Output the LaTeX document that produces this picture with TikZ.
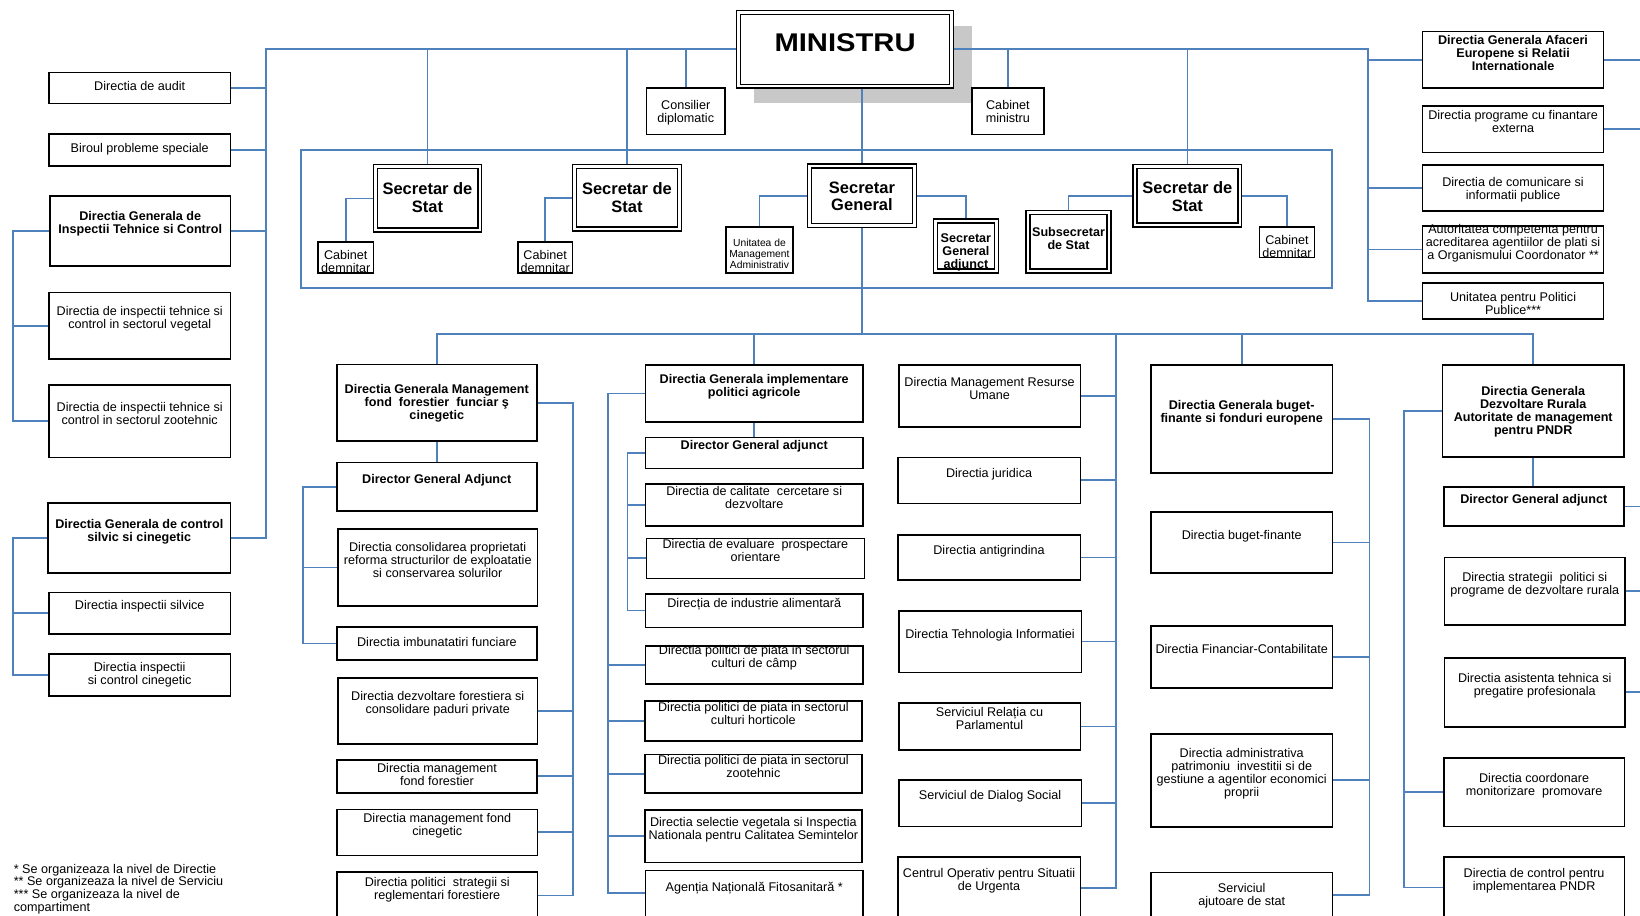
\documentclass[tikz,border=0pt]{standalone}
\usepackage{fontspec}
\setmainfont{Liberation Sans}
\usepackage{tikz}
\usetikzlibrary{positioning,fit,backgrounds}

\definecolor{orgblue}{RGB}{79,129,189}
\definecolor{shadowgray}{RGB}{200,200,200}

% box from corner to corner, text hung below its top edge
\newcommand{\orgunit}[8][]{%
  \node[unit, fit={(#3,#4) (#5,#6)}] (#2) {};
  \node[txt, #1, below=#7pt of #2.north] (#2-t) {#8};
}

\begin{document}
\begin{tikzpicture}[
    x = 1pt, y = -1pt, % pixel grid, y going down
    unit/.style = {draw = black, line width = 1.6pt, fill = white, inner sep = 0pt},
    chief/.style = {draw = black, line width = 1.3pt, double = white, double distance = 2.6pt, fill = white, inner sep = 0pt},
    txt/.style = {align = center, inner sep = 0pt, font = \fontsize{12.6}{13}\selectfont},
    boldtxt/.style = {font = \fontsize{12.6}{13}\selectfont\bfseries},
    smalltxt/.style = {font = \fontsize{10.3}{11.4}\selectfont},
    bigtxt/.style = {font = \fontsize{16.5}{17.4}\selectfont\bfseries},
    conn/.style = {draw = orgblue, line width = 1.7pt} % connector line
    ]
    \useasboundingbox (0,0) rectangle (1640,915);

    % minister and cabinet
    \node[chief, fit={(738.5,12.5) (951.6,86.2)}] (ministru) {};
    \node[txt, font=\fontsize{25.6}{30}\selectfont\bfseries, below=21.7pt of ministru.north] (ministru-t) {\scalebox{1.14}[1]{MINISTRU}};
    \orgunit{consil}{646.4}{88.3}{725}{134.7}{13}{Consilier\\diplomatic}
    \orgunit{cabmin}{971.8}{88.3}{1043.9}{134.7}{13}{Cabinet\\ministru}

    % secretaries
    \node[chief, fit={(375.2,166.7) (479.8,230)}] (sds1) {};
    \node[txt, bigtxt, below=16.5pt of sds1.north] (sds1-t) {Secretar de\\Stat};
    \node[chief, fit={(574.5,166.7) (679.4,229)}] (sds2) {};
    \node[txt, bigtxt, below=16.5pt of sds2.north] (sds2-t) {Secretar de\\Stat};
    \node[chief, fit={(809.5,166) (914.4,225.3)}] (sg) {};
    \node[txt, bigtxt, below=16pt of sg.north] (sg-t) {Secretar\\General};
    \node[chief, fit={(1134.9,166.7) (1239.8,225)}] (sds3) {};
    \node[txt, bigtxt, below=15.5pt of sds3.north] (sds3-t) {Secretar de\\Stat};
    \node[chief, fit={(935.2,221) (996.6,271)}] (sga) {};
    \node[txt, boldtxt, below=12.7pt of sga.north] (sga-t) {Secretar\\General\\adjunct};
    \node[chief, fit={(1028,212.7) (1109,271)}] (subs) {};
    \node[txt, boldtxt, below=15pt of subs.north] (subs-t) {Subsecretar\\de Stat};
    \orgunit{cab1}{317.9}{241.7}{373.6}{273}{9.6}{Cabinet\\demnitar}
    \orgunit{cab2}{517.9}{241.7}{572.5}{273}{9.6}{Cabinet\\demnitar}
    \orgunit[smalltxt]{unitma}{725.7}{226.7}{793.2}{273}{12.5}{Unitatea de\\Management\\Administrativ}
    \orgunit{cab3}{1259.6}{226.7}{1314.3}{257.3}{9.3}{Cabinet\\demnitar}

    % left side
    \orgunit{audit}{49}{72.7}{230.4}{103.7}{9.6}{Directia de audit}
    \orgunit{biroul}{49}{134.3}{230.4}{165.7}{9.7}{Biroul probleme speciale}
    \orgunit[boldtxt]{dginsp}{50}{195.7}{230.4}{265.7}{16.6}{Directia Generala de\\Inspectii Tehnice si Control}
    \orgunit{veg}{49}{292.3}{230.4}{359}{15}{Directia de inspectii tehnice si\\control in sectorul vegetal}
    \orgunit{zoot}{49}{384.7}{230.4}{457.3}{18.6}{Directia de inspectii tehnice si\\control in sectorul zootehnic}
    \orgunit[boldtxt]{dgsilv}{48.2}{503}{230.4}{572.7}{17.3}{Directia Generala de control\\silvic si cinegetic}
    \orgunit{silv}{49}{592.3}{230.4}{634}{9}{Directia inspectii silvice}
    \orgunit{cineg}{49}{653.7}{230.4}{695.7}{9.6}{Directia inspectii\\si control cinegetic}

    % right side
    \orgunit[boldtxt]{dgaer}{1422.5}{31.7}{1603.6}{88.3}{4.3}{Directia Generala Afaceri\\Europene si Relatii\\Internationale}
    \orgunit{progext}{1422.5}{106}{1603.6}{152.3}{5.3}{Directia programe cu finantare\\externa}
    \orgunit{comunic}{1422.5}{164.7}{1603.6}{211}{13.6}{Directia de comunicare si\\informatii publice}
    \orgunit{autcomp}{1422.5}{226}{1603.6}{272.7}{-0.7}{Autoritatea competenta pentru\\acreditarea agentiilor de plati si\\a Organismului Coordonator **}
    \orgunit{upp}{1422.5}{282.7}{1603.6}{319}{10}{Unitatea pentru Politici\\Publice***}

    % forests column
    \orgunit[boldtxt]{dgmff}{336.8}{364.3}{536.8}{441}{20.7}{Directia Generala Management\\fond\ \ forestier\ \ funciar ş\\cinegetic}
    \orgunit[boldtxt]{adjA}{336.8}{462.3}{536.8}{511}{13}{Director General Adjunct}
    \orgunit{consol}{337.9}{528.7}{537.5}{606}{14.6}{Directia consolidarea proprietati\\reforma structurilor de exploatatie\\si conservarea solurilor}
    \orgunit{imbun}{337.1}{626.7}{536.8}{660}{11.6}{Directia imbunatatiri funciare}
    \orgunit{dezvf}{337.9}{677.7}{537.5}{744}{14.6}{Directia dezvoltare forestiera si\\consolidare paduri private}
    \orgunit{mff}{337}{759.7}{537}{792.7}{4.6}{Directia management\\fond forestier}
    \orgunit{mfc}{337}{809.3}{537.5}{855.3}{5}{Directia management fond\\cinegetic}
    \orgunit{polstr}{337}{871.7}{537.5}{919}{6}{Directia politici\ \ strategii si\\reglementari forestiere}

    % agricultural policy column
    \orgunit[boldtxt]{dgipa}{645.4}{365}{863}{421.7}{10}{Directia Generala implementare\\politici agricole}
    \orgunit[boldtxt]{adjB}{645.4}{437.3}{863}{468.3}{4}{Director General adjunct}
    \orgunit{calit}{645.4}{483.7}{863}{525.7}{3.6}{Directia de calitate\ \ cercetare si\\dezvoltare}
    \orgunit{evalu}{646.4}{538.3}{864.4}{578.3}{2}{Directia de evaluare\ \ prospectare\\orientare}
    \orgunit{indal}{645.4}{593.7}{863}{627.3}{5.6}{Direcția de industrie alimentară}
    \orgunit{pcamp}{645.4}{646}{863}{683.7}{0.3}{Directia politici de piata in sectorul\\culturi de câmp}
    \orgunit{phort}{644.7}{700.7}{862}{740.7}{2.6}{Directia politici de piata in sectorul\\culturi horticole}
    \orgunit{pzoo}{644.7}{754.3}{862}{793}{2}{Directia politici de piata in sectorul\\zootehnic}
    \orgunit{selveg}{644.7}{809.7}{862}{862.3}{8.3}{Directia selectie vegetala si Inspectia\\Nationala pentru Calitatea Semintelor}
    \orgunit{anf}{645.4}{870.3}{863}{916.3}{12.7}{Agenția Națională Fitosanitară *}

    % services column
    \orgunit{mru}{898.8}{365}{1080.3}{426.7}{13}{Directia Management Resurse\\Umane}
    \orgunit{jurid}{897.8}{457.3}{1080.3}{503.3}{11.7}{Directia juridica}
    \orgunit{antigr}{897.8}{535}{1080.3}{580}{11}{Directia antigrindina}
    \orgunit{tehinf}{898.8}{610.7}{1081.3}{672.3}{19.6}{Directia Tehnologia Informatiei}
    \orgunit{relparl}{898.8}{703}{1080.3}{749.7}{5.3}{Serviciul Relația cu\\Parlamentul}
    \orgunit{dialog}{898.8}{780}{1081.3}{826.3}{11}{Serviciul de Dialog Social}
    \orgunit{cosu}{897.8}{857}{1080.3}{918.4}{12.3}{Centrul Operativ pentru Situatii\\de Urgenta}

    % budget column
    \orgunit[boldtxt]{dgbf}{1151}{365}{1332.4}{472.7}{36}{Directia Generala buget-\\finante si fonduri europene}
    \orgunit{bugfin}{1151}{512}{1332.4}{572.7}{19}{Directia buget-finante}
    \orgunit{fincont}{1151}{626}{1332.4}{687.7}{19.3}{Directia Financiar-Contabilitate}
    \orgunit{admpat}{1151}{733.7}{1332.4}{826.7}{15.6}{Directia administrativa\\patrimoniu\ \ investitii si de\\gestiune a agentilor economici\\proprii}
    \orgunit{ajstat}{1151}{872.3}{1332.4}{917.7}{11.4}{Serviciul\\ajutoare de stat}

    % rural development column
    \orgunit[boldtxt]{dgdr}{1442.6}{365}{1623.8}{457}{22}{Directia Generala\\Dezvoltare Rurala\\Autoritate de management\\pentru PNDR}
    \orgunit[boldtxt]{adjE}{1443.7}{487}{1623.8}{525.7}{8.3}{Director General adjunct}
    \orgunit{strat}{1444.4}{557.3}{1625.1}{625}{16}{Directia strategii\ \ politici si\\programe de dezvoltare rurala}
    \orgunit{asist}{1444.4}{657.7}{1625.1}{726.7}{16.6}{Directia asistenta tehnica si\\pregatire profesionala}
    \orgunit{coord}{1443.7}{757.7}{1624.5}{826.3}{16.6}{Directia coordonare\\monitorizare\ \ promovare}
    \orgunit{ctrl}{1443.7}{856.7}{1624.5}{918}{12.6}{Directia de control pentru\\implementarea PNDR}

    \node[txt, align=left, anchor=north west, font=\fontsize{12.6}{12.6}\selectfont] (notes) at (13.6,864) {* Se organizeaza la nivel de Directie\\** Se organizeaza la nivel de Serviciu\\*** Se organizeaza la nivel de\\compartiment};

    % bus lines
    \coordinate (lbus) at (266,0);
    \coordinate (ib) at (13.2,0);
    \coordinate (rbus) at (1368.2,0);
    \coordinate (redge) at (1640,0);
    \coordinate (bus) at (0,334.3);
    \coordinate (ia) at (302.9,0);
    \coordinate (ra) at (573.3,0);
    \coordinate (lb) at (608.3,0);
    \coordinate (lbi) at (627.4,0);
    \coordinate (cb) at (1115.8,0);
    \coordinate (db) at (1369.6,0);
    \coordinate (eb) at (1404.1,0);

    \begin{scope}[on background layer]
    \node[fill=shadowgray, inner sep=0pt, fit={(754.3,26) (972.1,103.3)}] (shadow) {};
    \node[conn, inner sep=0pt, fit={(301,149.7) (1332.1,287.7)}] (secframe) {};

    \draw[conn] (ministru.west) -| (dgsilv.east -| lbus) -- (dgsilv.east);
    \draw[conn] (ministru.east) -| (upp.west -| rbus) -- (upp.west);
    \foreach \bx in {audit, biroul, dginsp}
        \draw[conn] (\bx.east) -- (\bx.east -| lbus);
    \foreach \bx in {dgaer, comunic, autcomp}
        \draw[conn] (\bx.west) -- (\bx.west -| rbus);
    \foreach \bx in {dgaer, progext, adjE, strat, asist}
        \draw[conn] (\bx.east) -- (\bx.east -| redge);
    \foreach \bx in {sds1, sds2, consil, cabmin, sds3}
        \draw[conn] (\bx.north) -- (\bx.north |- ministru.west);
    \draw[conn] (sg.north) -- (sg.north |- ministru.south);
    \draw[conn] (sg.south) -- (sg.south |- bus);

    \draw[conn] (dginsp.west) -- (dginsp.west -| ib) |- (zoot.west);
    \draw[conn] (veg.west) -- (veg.west -| ib);
    \draw[conn] (dgsilv.west) -- (dgsilv.west -| ib) |- (cineg.west);
    \draw[conn] (silv.west) -- (silv.west -| ib);

    \draw[conn] (sds1.west) -| (cab1.north);
    \draw[conn] (sds2.west) -| (cab2.north);
    \draw[conn] (sg.west) -| (unitma.north);
    \draw[conn] (sg.east) -| (sga.north);
    \draw[conn] (sds3.west) -| (subs.north);
    \draw[conn] (sds3.east) -| (cab3.north);

    \draw[conn] (dgmff.north) -- (dgmff.north |- bus) -- (dgdr.north |- bus) -- (dgdr.north);
    \foreach \bx in {dgipa, dgbf}
        \draw[conn] (\bx.north) -- (\bx.north |- bus);
    \draw[conn] (dgmff.south) -- (adjA.north);
    \draw[conn] (dgipa.south) -- (adjB.north);
    \draw[conn] (dgdr.south) -- (dgdr.south |- adjE.north);

    \draw[conn] (adjA.west) -| (imbun.west -| ia) -- (imbun.west);
    \draw[conn] (consol.west) -- (consol.west -| ia);
    \draw[conn] (dgmff.east) -| (polstr.east -| ra) -- (polstr.east);
    \foreach \bx in {dezvf, mff, mfc}
        \draw[conn] (\bx.east) -- (\bx.east -| ra);

    \draw[conn] (dgipa.west) -| (anf.west -| lb) -- (anf.west);
    \foreach \bx in {pcamp, phort, pzoo, selveg}
        \draw[conn] (\bx.west) -- (\bx.west -| lb);
    \draw[conn] (adjB.west) -| (indal.west -| lbi) -- (indal.west);
    \foreach \bx in {calit, evalu}
        \draw[conn] (\bx.west) -- (\bx.west -| lbi);

    \draw[conn] (cb |- bus) |- (cosu.east);
    \foreach \bx in {mru, jurid, antigr, tehinf, relparl, dialog}
        \draw[conn] (\bx.east) -- (\bx.east -| cb);

    \draw[conn] (dgbf.east) -| (ajstat.east -| db) -- (ajstat.east);
    \foreach \bx in {bugfin, fincont, admpat}
        \draw[conn] (\bx.east) -- (\bx.east -| db);

    \draw[conn] (dgdr.west) -| (ctrl.west -| eb) -- (ctrl.west);
    \draw[conn] (coord.west) -- (coord.west -| eb);
    \end{scope}
\end{tikzpicture}
\end{document}
